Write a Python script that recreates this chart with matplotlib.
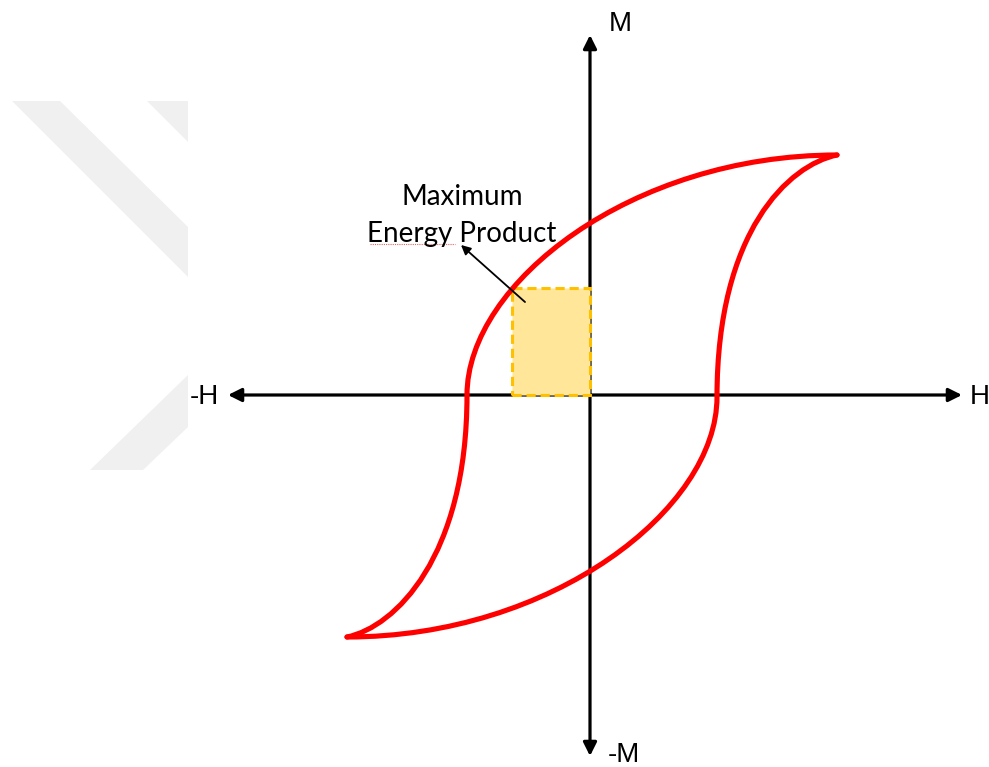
import numpy as np
import matplotlib
matplotlib.use("Agg")
import matplotlib.pyplot as plt
from matplotlib.patches import Rectangle, Polygon, FancyArrowPatch, PathPatch
from matplotlib.path import Path

# hysteresis loop (arbitrary units, origin at the axes crossing)
# each branch = two cubic Bezier pieces: node, handle, handle, node, handle, handle, node
# descending branch: +saturation tip -> coercive point -> -saturation tip
H_down = [247, 42, -123, -123, -123, -195, -243]
M_down = [240, 240, 112, 0, -162, -232, -242]
# ascending branch: -saturation tip -> coercive point -> +saturation tip
H_up = [-243, -38, 127, 127, 127, 199, 247]
M_up = [-242, -242, -114, -2, 164, 230, 240]

# maximum energy product box (H from -Hm to 0, M from 0 to Mm)
box_H = -78
box_M = 107

# axis extents
H_min, H_max = -362, 372
M_min, M_max = -361, 360

# faint watermark in the background (pixel coordinates of the source image)
wm_shapes = [
    [(12, 101), (60, 101), (188, 227), (188, 277)],
    [(147, 101), (188, 101), (188, 142)],
    [(188, 375), (90, 470), (143, 470), (188, 427)],
]

W, Hpx = 989, 767
ox, oy = 590, 395  # pixel position of the origin

fig = plt.figure(figsize=(W / 100, Hpx / 100), dpi=100)
ax = fig.add_axes([0, 0, 1, 1])
ax.set_xlim(-ox, W - ox)
ax.set_ylim(oy - Hpx, oy)
ax.axis("off")


def px(p):
    return (p[0] - ox, oy - p[1])


for shp in wm_shapes:
    ax.add_patch(Polygon([px(p) for p in shp], closed=True, facecolor="#f0f0f0",
                         edgecolor="none", zorder=0))

# axes with arrows
for start, end in [((0, 0), (H_max, 0)), ((0, 0), (H_min, 0)),
                   ((0, 0), (0, M_max)), ((0, 0), (0, M_min))]:
    ax.add_patch(FancyArrowPatch(start, end, arrowstyle="-|>", mutation_scale=20,
                                 color="black", lw=2.3, shrinkA=0, shrinkB=0, zorder=2))

ax.add_patch(Rectangle((box_H, 0), -box_H, box_M, facecolor="#ffe699",
                       edgecolor="#ffc000", lw=2.2, linestyle=(0, (3, 1.6)), zorder=3))

codes = [Path.MOVETO] + [Path.CURVE4] * 6
for hs, ms in [(H_down, M_down), (H_up, M_up)]:
    ax.add_patch(PathPatch(Path(list(zip(hs, ms)), codes), facecolor="none",
                           edgecolor="#ff0000", lw=3.7, capstyle="round", zorder=4))

lab = dict(fontsize=20, family="Liberation Sans", ha="center", va="center")
ax.text(30, 371, "M", **lab)
ax.text(34, -360, "-M", **lab)
ax.text(-386, -2, "-H", **lab)
ax.text(390, -2, "H", **lab)

ax.annotate("", xy=(-129, 150), xytext=(-65, 93),
            arrowprops=dict(arrowstyle="-|>", color="black", lw=1.3, mutation_scale=14,
                            shrinkA=0, shrinkB=0), zorder=5)
txt = dict(fontsize=20, family="Lato", ha="center", va="center")
ax.text(-128, 198, "Maximum", **txt)
ax.text(-128, 161, "Energy Product", **txt)
ax.plot([-220, -135], [151, 151], color="#e06666", lw=0.8, linestyle=(0, (1, 1)))

fig.savefig("out.png", dpi=100)
